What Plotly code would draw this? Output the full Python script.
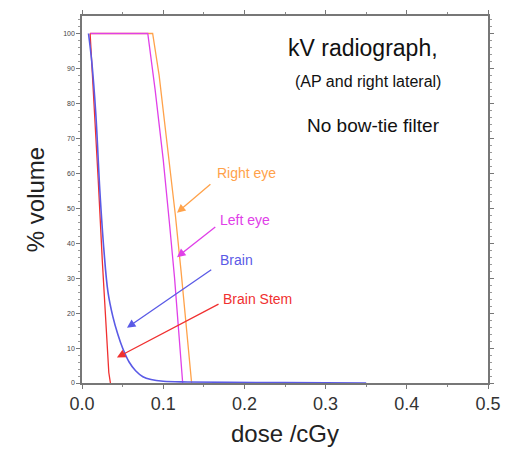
import plotly.graph_objects as go

# Dose-volume histogram data (dose in cGy, % volume)
right_eye_x = [0.010, 0.087, 0.095, 0.105, 0.115, 0.122, 0.129, 0.135]
right_eye_y = [100, 100, 88, 68, 48, 32, 15, 0]

left_eye_x = [0.010, 0.081, 0.090, 0.100, 0.108, 0.114, 0.119, 0.124]
left_eye_y = [100, 100, 84, 64, 45, 30, 15, 0]

brain_x = [0.008, 0.012, 0.017, 0.022, 0.027, 0.032, 0.038, 0.044, 0.050, 0.058,
           0.066, 0.075, 0.085, 0.100, 0.130, 0.180, 0.250, 0.350]
brain_y = [100, 92, 77, 55, 38, 26, 19, 14, 10, 6, 3.5, 1.8, 1.0, 0.5, 0.3, 0.2, 0.1, 0]

stem_x = [0.010, 0.015, 0.020, 0.025, 0.030, 0.033, 0.035]
stem_y = [100, 80, 58, 35, 14, 3, 0]

x_ticks = [0.0, 0.1, 0.2, 0.3, 0.4, 0.5]
y_ticks = [0, 10, 20, 30, 40, 50, 60, 70, 80, 90, 100]

c_orange = "#FFA24A"
c_magenta = "#E040E8"
c_blue = "#5A5AE6"
c_red = "#F03030"

fig = go.Figure()
fig.add_trace(go.Scatter(x=right_eye_x, y=right_eye_y, mode="lines",
                         line=dict(color=c_orange, width=1.3), name="Right eye"))
fig.add_trace(go.Scatter(x=left_eye_x, y=left_eye_y, mode="lines",
                         line=dict(color=c_magenta, width=1.3), name="Left eye"))
fig.add_trace(go.Scatter(x=stem_x, y=stem_y, mode="lines",
                         line=dict(color=c_red, width=1.3), name="Brain Stem"))
fig.add_trace(go.Scatter(x=brain_x, y=brain_y, mode="lines",
                         line=dict(color=c_blue, width=1.6, shape="spline"), name="Brain"))

font = "Liberation Sans, Arial, sans-serif"

labels = [
    ("Right eye", 0.164, 60.0, c_orange, 0.160, 57.2, 0.117, 48.7),
    ("Left eye", 0.1675, 46.5, c_magenta, 0.166, 45.0, 0.117, 36.0),
    ("Brain", 0.1675, 35.2, c_blue, 0.161, 32.7, 0.0554, 15.8),
    ("Brain Stem", 0.171, 23.9, c_red, 0.170, 22.8, 0.043, 7.3),
]
for text, tx, ty, col, ax, ay, hx, hy in labels:
    fig.add_annotation(x=tx, y=ty, text=text, showarrow=False, xanchor="left",
                       yanchor="middle", font=dict(family=font, size=14, color=col))
    fig.add_annotation(x=hx, y=hy, ax=ax, ay=ay, axref="x", ayref="y", text="",
                       showarrow=True, arrowhead=2, arrowsize=1.3, arrowwidth=1.3,
                       arrowcolor=col)

fig.add_annotation(x=0.441, y=95.8, text="kV radiograph,", showarrow=False,
                   xanchor="right", yanchor="middle",
                   font=dict(family=font, size=23, color="#111"))
fig.add_annotation(x=0.4446, y=86.2, text="(AP and right lateral)", showarrow=False,
                   xanchor="right", yanchor="middle",
                   font=dict(family=font, size=16, color="#111"))
fig.add_annotation(x=0.443, y=73.8, text="No bow-tie filter", showarrow=False,
                   xanchor="right", yanchor="middle",
                   font=dict(family=font, size=19, color="#111"))

fig.update_layout(
    width=518, height=453,
    margin=dict(l=82, r=30, t=10, b=69),
    paper_bgcolor="white", plot_bgcolor="white",
    showlegend=False,
    font=dict(family=font, color="#222"),
)
fig.update_xaxes(
    range=[0, 0.5], tickvals=x_ticks, ticktext=[f"{v:.1f}" for v in x_ticks],
    showgrid=False, zeroline=False, showline=True, linecolor="#777", linewidth=1.5,
    mirror="allticks", ticks="outside", ticklen=4, tickcolor="#777",
    minor=dict(dtick=0.05, ticks="outside", ticklen=2, tickcolor="#888"),
    tickfont=dict(size=18, color="#333"),
    title=dict(text="dose /cGy", font=dict(size=24, color="#222"), standoff=12),
)
fig.update_yaxes(
    range=[0, 105], tickvals=y_ticks,
    showgrid=False, zeroline=False, showline=True, linecolor="#777", linewidth=1.5,
    mirror="allticks", ticks="outside", ticklen=4, tickcolor="#777",
    minor=dict(dtick=2, ticks="outside", ticklen=2, tickcolor="#999"),
    tickfont=dict(size=7, color="#444"),
    title=dict(text="% volume", font=dict(size=24, color="#222"), standoff=12),
)

fig.write_html("out.html")
